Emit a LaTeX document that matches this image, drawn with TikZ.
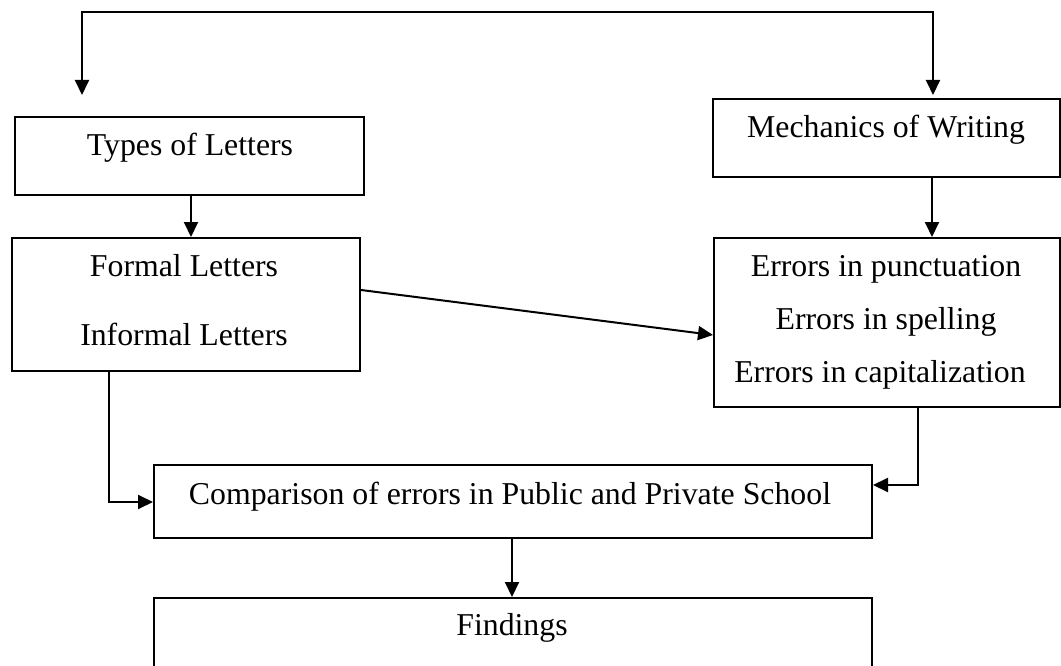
\documentclass[tikz,border=0pt]{standalone}
\usepackage{fontspec}
\setmainfont{Liberation Serif}
\usetikzlibrary{arrows.meta}
\begin{document}
\begin{tikzpicture}[x=1pt,y=-1pt,
  box/.style={draw, line width=2pt, rectangle, inner sep=0pt, anchor=north west},
  lbl/.style={anchor=base, inner sep=0pt, font=\fontsize{31.8}{38}\selectfont},
  ln/.style={line width=2pt},
  tip/.style={},
  arr/.style={line width=2pt, -{Triangle[length=15pt,width=14pt]}}]
\useasboundingbox (0,0) rectangle (1061,666);
\clip (0,0) rectangle (1061,666);
% boxes
\node[box, minimum width=349pt, minimum height=78pt] (types) at (14,116) {};
\node[box, minimum width=347pt, minimum height=78pt] (mech) at (712,98) {};
\node[box, minimum width=348pt, minimum height=133pt] (formal) at (11,237) {};
\node[box, minimum width=346pt, minimum height=169pt] (errors) at (713,237) {};
\node[box, minimum width=718pt, minimum height=73pt] (comp) at (153,464) {};
\node[box, minimum width=718pt, minimum height=130pt] (find) at (153,597) {};
% labels
\node[lbl] (tTypes) at (190,156) {Types of Letters};
\node[lbl] (tMech) at (886,138) {Mechanics of Writing};
\node[lbl] (tFormal) at (184,276) {Formal Letters};
\node[lbl] (tInformal) at (184,345) {Informal Letters};
\node[lbl] (tPunct) at (886,276) {Errors in punctuation};
\node[lbl] (tSpell) at (886,329) {Errors in spelling};
\node[lbl] (tCap) at (880,382) {Errors in capitalization};
\node[lbl] (tComp) at (510,504) {Comparison of errors in Public and Private School};
\node[lbl] (tFind) at (512,635) {Findings};
% helper coordinates
\coordinate (tl) at (82,95);
\coordinate (tr) at (933,95);
\coordinate (x191) at (191,0);
\coordinate (x932) at (932,0);
\coordinate (x109) at (109,0);
\coordinate (x918) at (918,0);
\coordinate (x512) at (512,0);
\coordinate (y290) at (0,290);
\coordinate (y335) at (0,335);
\coordinate (y502) at (0,502);
\coordinate (y485) at (0,485);
% connectors
\draw[ln, {Triangle[length=15pt,width=14pt]}-{Triangle[length=15pt,width=14pt]}]
  (tl) -- (82,12) -- (933,12) -- (tr);
\draw[arr] (types.south -| x191) -- (formal.north -| x191);
\draw[arr] (mech.south -| x932) -- (errors.north -| x932);
\draw[arr] (formal.east |- y290) -- (errors.west |- y335);
\draw[arr] (formal.south -| x109) |- (comp.west |- y502);
\draw[arr] (errors.south -| x918) |- (comp.east |- y485);
\draw[arr] (comp.south -| x512) -- (find.north -| x512);
\end{tikzpicture}
\end{document}
